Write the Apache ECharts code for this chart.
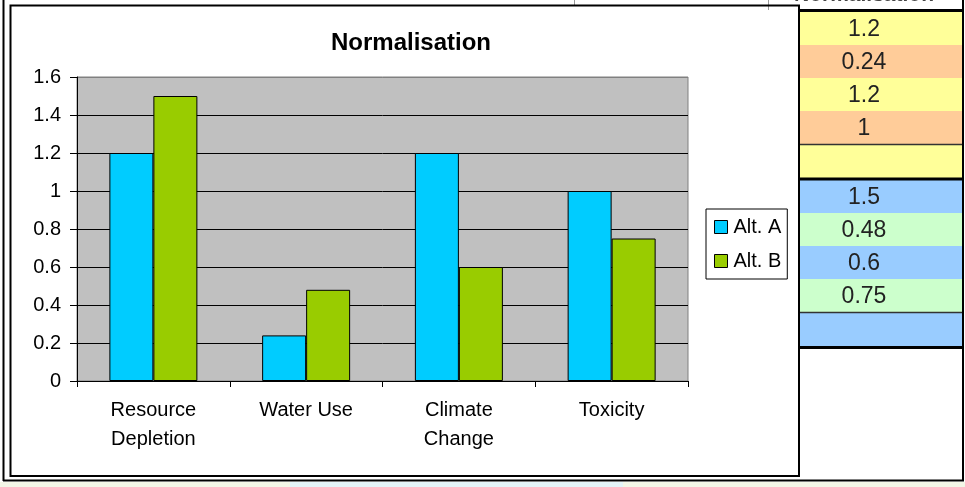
<!DOCTYPE html>
<html>
<head>
<meta charset="utf-8">
<script src="https://cdn.jsdelivr.net/npm/echarts@6/dist/echarts.min.js"></script>
<style>
html,body{margin:0;padding:0;background:#fff;}
#chart{width:965px;height:487px;}
</style>
</head>
<body>
<div id="chart"></div>
<script>
// ---- data ----
const categories = ['Resource\nDepletion', 'Water Use', 'Climate\nChange', 'Toxicity'];
const seriesNames = ['Alt. A', 'Alt. B'];
const altA = [1.2, 0.24, 1.2, 1];
const altB = [1.5, 0.48, 0.6, 0.75];
const yMin = 0, yMax = 1.6, yStep = 0.2;
const titleText = 'Normalisation';
const headerText = 'Normalisation';

// ---- styles ----
const FONT = '"Liberation Sans", Arial, sans-serif';
const colA = '#00CCFF', colB = '#99CC00';

const chart = echarts.init(document.getElementById('chart'), null, {renderer: 'canvas'});

// spreadsheet column graphics (cells built from the same data arrays)
const g = [];
const cellX = 799, cellW = 164, textX = 864, rowH = 33;
function block(top, values, c1, c2, emptyColor) {
  values.forEach((v, i) => {
    const y = top + i * rowH;
    g.push({type: 'rect', shape: {x: cellX, y: y, width: cellW, height: rowH},
      style: {fill: i % 2 === 0 ? c1 : c2}, z: 1});
    g.push({type: 'text', x: textX, y: y + rowH / 2 + 1, z: 3,
      style: {text: String(v), fill: '#222', font: '23px ' + FONT, align: 'center', verticalAlign: 'middle'}});
  });
  const lineY = top + values.length * rowH;
  g.push({type: 'rect', shape: {x: cellX, y: lineY + 1, width: cellW, height: rowH}, style: {fill: emptyColor}, z: 1});
  g.push({type: 'line', shape: {x1: cellX, y1: lineY + 0.5, x2: cellX + cellW, y2: lineY + 0.5}, style: {stroke: '#333', lineWidth: 1.5}, z: 2});
  return lineY + 1 + rowH;
}
let endA = block(12, altA, '#FFFF99', '#FFCC99', '#FFFF99');
g.push({type: 'line', shape: {x1: cellX, y1: endA + 1, x2: cellX + cellW, y2: endA + 1}, style: {stroke: '#000', lineWidth: 3}, z: 2});
let endB = block(endA + 2, altB, '#99CCFF', '#CCFFCC', '#99CCFF');
g.push({type: 'line', shape: {x1: cellX, y1: endB + 1.5, x2: cellX + cellW, y2: endB + 1.5}, style: {stroke: '#000', lineWidth: 3}, z: 2});

// header row (clipped at top)
g.push({type: 'line', shape: {x1: 574.5, y1: 0, x2: 574.5, y2: 6}, style: {stroke: '#999', lineWidth: 1}, z: 2});
g.push({type: 'line', shape: {x1: 768.5, y1: 0, x2: 768.5, y2: 10}, style: {stroke: '#999', lineWidth: 1}, z: 2});
g.push({type: 'text', x: 864, y: 6, z: 3,
  style: {text: headerText, fill: '#444', font: 'bold 21px ' + FONT, align: 'center', verticalAlign: 'bottom'}});
g.push({type: 'rect', shape: {x: cellX, y: 9, width: 165, height: 3}, style: {fill: '#000'}, z: 4});

// sheet frame lines
g.push({type: 'line', shape: {x1: 963, y1: 0, x2: 963, y2: 481}, style: {stroke: '#000', lineWidth: 2}, z: 4});
g.push({type: 'line', shape: {x1: 3.5, y1: 0, x2: 3.5, y2: 481}, style: {stroke: '#000', lineWidth: 2}, z: 4});
g.push({type: 'line', shape: {x1: 3, y1: 480.5, x2: 964, y2: 480.5}, style: {stroke: '#000', lineWidth: 2}, z: 4});
g.push({type: 'rect', shape: {x: 0, y: 482, width: 965, height: 5}, style: {fill: '#F3F6E6'}, z: 0});
g.push({type: 'rect', shape: {x: 290, y: 482, width: 333, height: 5}, style: {fill: '#E4F4F8'}, z: 0});

// chart frame
g.push({type: 'rect', shape: {x: 10.5, y: 5.5, width: 788.5, height: 470.5}, style: {fill: 'none', stroke: '#000', lineWidth: 2}, z: 4});

const option = {
  animation: false,
  backgroundColor: '#fff',
  textStyle: {fontFamily: FONT},
  title: {
    text: titleText,
    left: 406, top: 26, textAlign: 'center',
    textStyle: {fontSize: 24, fontWeight: 'bold', color: '#000', fontFamily: FONT}
  },
  legend: {
    orient: 'vertical',
    left: 706, top: 209,
    data: seriesNames,
    icon: 'rect',
    itemWidth: 13, itemHeight: 13, itemGap: 14,
    padding: [8, 6, 8, 8],
    borderColor: '#000', borderWidth: 1,
    itemStyle: {borderColor: '#000', borderWidth: 1},
    textStyle: {fontSize: 20, color: '#000', fontFamily: FONT, lineHeight: 20, padding: [0, 0, 0, 1]}
  },
  grid: {
    left: 77, top: 77, width: 611, height: 304,
    show: true, backgroundColor: '#C0C0C0', borderColor: '#808080', borderWidth: 1,
    containLabel: false
  },
  xAxis: {
    type: 'category',
    data: categories,
    boundaryGap: true,
    axisLine: {lineStyle: {color: '#000', width: 1}},
    axisTick: {show: true, alignWithLabel: false, length: 6, lineStyle: {color: '#000'}},
    axisLabel: {fontSize: 20, color: '#000', lineHeight: 29, margin: 15, interval: 0, fontFamily: FONT},
    splitLine: {show: false}
  },
  yAxis: {
    type: 'value',
    min: yMin, max: yMax, interval: yStep,
    axisLine: {show: true, lineStyle: {color: '#000', width: 1}},
    axisTick: {show: true, inside: false, length: 7, lineStyle: {color: '#000'}},
    axisLabel: {fontSize: 20, color: '#000', margin: 16, fontFamily: FONT},
    splitLine: {show: true, lineStyle: {color: ['#000','#000','#000','#000','#000','#000','#000','#000','#808080'], width: 1}}
  },
  series: [
    {name: seriesNames[0], type: 'bar', data: altA, barWidth: 44, barGap: '0%',
     itemStyle: {color: colA, borderColor: '#000', borderWidth: 1}},
    {name: seriesNames[1], type: 'bar', data: altB, barWidth: 44, barGap: '0%',
     itemStyle: {color: colB, borderColor: '#000', borderWidth: 1}}
  ],
  graphic: {elements: g}
};
chart.setOption(option);
</script>
</body>
</html>
